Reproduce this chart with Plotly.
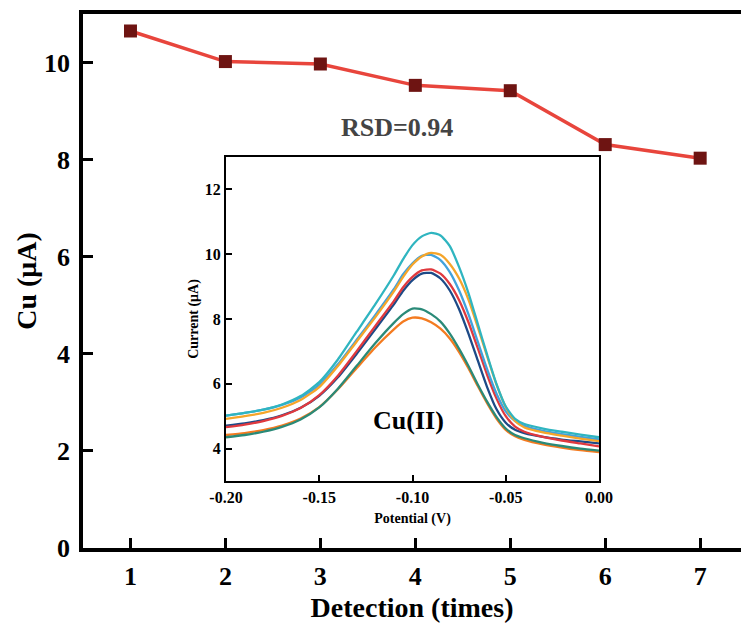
import plotly.graph_objects as go

# Repeated detections of Cu(II): peak current per run
detection = [1, 2, 3, 4, 5, 6, 7]
cu_current = [10.65, 10.02, 9.97, 9.53, 9.42, 8.31, 8.03]

# DPV scans (potential in V, current in uA), one list per run
potential = [-0.20, -0.19, -0.18, -0.17, -0.16, -0.15, -0.14, -0.13, -0.12, -0.11,
             -0.105, -0.10, -0.095, -0.09, -0.085, -0.08, -0.075, -0.07, -0.065,
             -0.06, -0.055, -0.05, -0.045, -0.04, -0.03, -0.02, -0.01, 0.00]

scan_1 = [5.02, 5.10, 5.20, 5.36, 5.62, 6.05, 6.75, 7.60, 8.45, 9.35,
          9.85, 10.28, 10.55, 10.66, 10.58, 10.25, 9.60, 8.80, 7.85,
          6.90, 6.00, 5.30, 4.92, 4.76, 4.62, 4.52, 4.43, 4.35]
scan_2 = [4.92, 5.00, 5.10, 5.26, 5.50, 5.90, 6.55, 7.30, 8.05, 8.85,
          9.30, 9.68, 9.93, 10.04, 9.98, 9.70, 9.25, 8.60, 7.75,
          6.85, 5.98, 5.28, 4.85, 4.65, 4.50, 4.40, 4.31, 4.23]
scan_3 = [5.02, 5.10, 5.20, 5.35, 5.58, 5.97, 6.60, 7.35, 8.12, 8.92,
          9.38, 9.72, 9.95, 9.98, 9.82, 9.45, 8.88, 8.15, 7.30,
          6.45, 5.70, 5.15, 4.85, 4.70, 4.55, 4.45, 4.36, 4.28]
scan_4 = [4.66, 4.74, 4.85, 5.01, 5.25, 5.65, 6.25, 7.00, 7.78, 8.55,
          8.98, 9.30, 9.50, 9.53, 9.40, 9.08, 8.58, 7.90, 7.10,
          6.28, 5.55, 5.00, 4.68, 4.52, 4.36, 4.25, 4.16, 4.07]
scan_5 = [4.71, 4.78, 4.88, 5.03, 5.26, 5.63, 6.20, 6.92, 7.68, 8.45,
          8.87, 9.20, 9.40, 9.42, 9.25, 8.88, 8.30, 7.55, 6.72,
          5.90, 5.22, 4.80, 4.58, 4.48, 4.36, 4.28, 4.22, 4.16]
scan_6 = [4.35, 4.42, 4.52, 4.67, 4.90, 5.27, 5.85, 6.55, 7.25, 7.88,
          8.15, 8.32, 8.30, 8.15, 7.92, 7.55, 7.08, 6.55, 5.98,
          5.45, 4.98, 4.62, 4.42, 4.32, 4.18, 4.08, 4.00, 3.94]
scan_7 = [4.42, 4.48, 4.57, 4.71, 4.93, 5.28, 5.83, 6.48, 7.12, 7.68,
          7.92, 8.04, 8.02, 7.90, 7.70, 7.40, 6.98, 6.48, 5.93,
          5.40, 4.93, 4.58, 4.38, 4.27, 4.13, 4.03, 3.95, 3.89]

scans = [scan_7, scan_6, scan_5, scan_4, scan_3, scan_2, scan_1]
scan_colors = ["#f47b20", "#2a8a78", "#1d4a87", "#e0393e", "#41a2dc", "#f5a52a", "#2fb5c0"]

main_ticks = [0, 2, 4, 6, 8, 10]
inset_xticks = [-0.20, -0.15, -0.10, -0.05, 0.00]
inset_xlabels = ["-0.20", "-0.15", "-0.10", "-0.05", "0.00"]
inset_yticks = [4, 6, 8, 10, 12]

FONT = "Liberation Serif"

fig = go.Figure()

fig.add_trace(go.Scatter(
    x=detection, y=cu_current, mode="lines+markers",
    line=dict(color="#e8453c", width=3.5),
    marker=dict(symbol="square", size=13, color="#6e1412", line=dict(width=0)),
    xaxis="x", yaxis="y", showlegend=False,
))

for vals, col in zip(scans, scan_colors):
    fig.add_trace(go.Scatter(
        x=potential, y=vals, mode="lines",
        line=dict(color=col, width=2.3, shape="spline", smoothing=0.6),
        xaxis="x2", yaxis="y2", showlegend=False,
    ))

W, H = 741, 630
L, R, T, B = 83, 0, 14, 82
pw, ph = W - L - R, H - T - B


def px_x(px):
    return (px - L) / pw


def px_y(py):
    return (H - B - py) / ph


fig.update_layout(
    width=W, height=H, autosize=False, showlegend=False,
    margin=dict(l=L, r=R, t=T, b=B, pad=0, autoexpand=False),
    paper_bgcolor="white", plot_bgcolor="white",
    font=dict(family=FONT, color="black"),
    xaxis=dict(
        range=[0.5, 7.43], tickvals=detection, ticks="inside", ticklen=10, tickwidth=3,
        tickcolor="black", showline=True, linewidth=3.5, linecolor="black", mirror=True,
        showgrid=False, zeroline=False, automargin=False,
        tickfont=dict(size=26, family=FONT, weight="bold"),
        ticklabelstandoff=2,
        title=dict(text="Detection (times)", font=dict(size=28, family=FONT, weight="bold"),
                   standoff=8),
    ),
    yaxis=dict(
        range=[0, 11], tickvals=main_ticks, ticks="inside", ticklen=10, tickwidth=3,
        tickcolor="black", showline=True, linewidth=3.5, linecolor="black",
        showgrid=False, zeroline=False, automargin=False,
        tickfont=dict(size=26, family=FONT, weight="bold"),
        ticklabelstandoff=4,
        title=dict(text="Cu (μA)", font=dict(size=28, family=FONT, weight="bold"),
                   standoff=0),
    ),
    xaxis2=dict(
        domain=[px_x(226), px_x(599)], anchor="y2",
        range=[-0.20, 0.00], tickvals=inset_xticks, ticktext=inset_xlabels,
        ticks="inside", ticklen=6, tickwidth=2, tickcolor="black",
        showline=True, linewidth=2, linecolor="black", mirror=True,
        showgrid=False, zeroline=False, automargin=False,
        tickfont=dict(size=16, family=FONT, weight="bold"),
        ticklabelstandoff=1,
        title=dict(text="Potential (V)", font=dict(size=14, family=FONT, weight="bold"),
                   standoff=8),
    ),
    yaxis2=dict(
        domain=[px_y(481), px_y(157)], anchor="x2",
        range=[3, 13], tickvals=inset_yticks,
        ticks="inside", ticklen=6, tickwidth=2, tickcolor="black",
        showline=True, linewidth=2, linecolor="black", mirror=True,
        showgrid=False, zeroline=False, automargin=False,
        tickfont=dict(size=16, family=FONT, weight="bold"),
        ticklabelstandoff=0,
        title=dict(text="Current (μA)", font=dict(size=14, family=FONT, weight="bold"),
                   standoff=3),
    ),
    annotations=[
        dict(text="RSD=0.94", x=px_x(397), y=px_y(128), xref="paper", yref="paper",
             showarrow=False, xanchor="center", yanchor="middle",
             font=dict(size=26, family=FONT, weight="bold", color="#444444")),
        dict(text="Cu(II)", x=px_x(408), y=px_y(420), xref="paper", yref="paper",
             showarrow=False, xanchor="center", yanchor="middle",
             font=dict(size=26, family=FONT, weight="bold", color="black")),
    ],
)

# keep the page free of scrollbars so the figure keeps its full width
page_fix = (
    "document.documentElement.style.overflow='hidden';"
    "document.body.style.overflow='hidden';"
    "document.body.style.margin='0';"
)

fig.write_html("out.html", config={"responsive": False}, post_script=page_fix)
